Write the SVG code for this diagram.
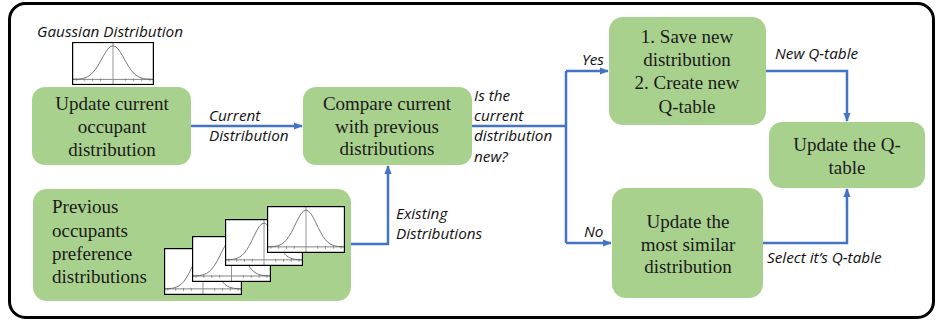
<svg xmlns="http://www.w3.org/2000/svg" xmlns:xlink="http://www.w3.org/1999/xlink" width="936" height="324" viewBox="0 0 936 324">
<style>
.box{fill:#a9d18e;stroke:none}
.t{font-family:"Liberation Serif","Times New Roman",serif;font-size:19px;fill:#1a1a1a}
.lbl{font-family:"Open Sans","Liberation Sans",Arial,sans-serif;font-style:italic;font-size:15.3px;fill:#111}
.conn{fill:none;stroke:#4472c4;stroke-width:2.5}
</style>
<defs>
<marker id="ah" viewBox="0 0 10 10" refX="9" refY="5" markerUnits="userSpaceOnUse" markerWidth="9" markerHeight="9" orient="auto">
<path d="M0,1 L10,5 L0,9 z" fill="#4472c4"/>
</marker>
<symbol id="gauss" viewBox="0 0 80 46" preserveAspectRatio="none">
<rect x="0" y="0" width="80" height="46" fill="#fff"/>
<line x1="0" y1="40" x2="80" y2="40" stroke="#666" stroke-width="0.8"/>
<path d="M4,39v3M12,39v3M20,39v3M28,39v3M52,39v3M60,39v3M68,39v3M76,39v3" stroke="#666" stroke-width="0.6"/>
<line x1="40" y1="1" x2="40" y2="46" stroke="#888" stroke-width="0.9"/>
<polyline fill="none" stroke="#555" stroke-width="0.8" points="0,39.95 2.5,39.89 5,39.77 7.5,39.54 10,39.13 12.5,38.41 15,37.28 17.5,35.55 20,33.11 22.5,29.85 25,25.79 27.5,21.13 30,16.18 32.5,11.45 35,7.53 37.5,4.92 40,4 42.5,4.92 45,7.53 47.5,11.45 50,16.18 52.5,21.13 55,25.79 57.5,29.85 60,33.11 62.5,35.55 65,37.28 67.5,38.41 70,39.13 72.5,39.54 75,39.77 77.5,39.89 80,39.95"/>
<rect x="0" y="0" width="80" height="46" fill="none" stroke="#000" stroke-width="2.4"/>
</symbol>
</defs>
<rect x="9.5" y="3.5" width="924" height="314" rx="16" fill="#fff" stroke="#000" stroke-width="3"/>

<g id="gaussian-label">
<text class="lbl" x="110" y="37" text-anchor="middle">Gaussian Distribution</text>
<use xlink:href="#gauss" x="72" y="42" width="82" height="43"/>
</g>

<g id="connectors">
<path class="conn" d="M191,126 H302" marker-end="url(#ah)"/>
<path class="conn" d="M345,244 H388 V166" marker-end="url(#ah)"/>
<path class="conn" d="M472,126 H566"/>
<path class="conn" d="M566,71 V243"/>
<path class="conn" d="M566,71 H608" marker-end="url(#ah)"/>
<path class="conn" d="M566,243 H611" marker-end="url(#ah)"/>
<path class="conn" d="M766,71 H847 V121" marker-end="url(#ah)"/>
<path class="conn" d="M763,243 H847 V189" marker-end="url(#ah)"/>
<text class="lbl" x="209" y="121">Current</text>
<text class="lbl" x="209" y="141">Distribution</text>
<text class="lbl" x="396" y="219">Existing</text>
<text class="lbl" x="396" y="239">Distributions</text>
<text class="lbl" x="474" y="101">Is the</text>
<text class="lbl" x="474" y="121">current</text>
<text class="lbl" x="474" y="141">distribution</text>
<text class="lbl" x="474" y="162">new?</text>
<text class="lbl" x="582" y="65">Yes</text>
<text class="lbl" x="584" y="237">No</text>
<text class="lbl" x="775" y="59">New Q-table</text>
<text class="lbl" x="767" y="263">Select it’s Q-table</text>
</g>

<g id="update-current">
<rect class="box" x="32" y="87" width="159" height="78" rx="13"/>
<text class="t" text-anchor="middle" x="112"><tspan x="112" y="110">Update current</tspan><tspan x="112" y="133">occupant</tspan><tspan x="112" y="156">distribution</tspan></text>
</g>

<g id="compare">
<rect class="box" x="303" y="87" width="169" height="78" rx="13"/>
<text class="t" text-anchor="middle"><tspan x="387" y="110">Compare current</tspan><tspan x="387" y="133">with previous</tspan><tspan x="387" y="155">distributions</tspan></text>
</g>

<g id="previous">
<rect class="box" x="33" y="189" width="318" height="112" rx="14"/>
<text class="t"><tspan x="52" y="213">Previous</tspan><tspan x="52" y="237">occupants</tspan><tspan x="52" y="260">preference</tspan><tspan x="52" y="283">distributions</tspan></text>
<use xlink:href="#gauss" x="164" y="248" width="78" height="47"/>
<use xlink:href="#gauss" x="192" y="236" width="79" height="46"/>
<use xlink:href="#gauss" x="225" y="219" width="78" height="47"/>
<use xlink:href="#gauss" x="267" y="206" width="78" height="47"/>
</g>

<g id="save-new">
<rect class="box" x="609" y="17" width="157" height="108" rx="14"/>
<text class="t" text-anchor="middle"><tspan x="687" y="43">1. Save new</tspan><tspan x="687" y="66">distribution</tspan><tspan x="687" y="89">2. Create new</tspan><tspan x="687" y="113">Q-table</tspan></text>
</g>

<g id="update-q">
<rect class="box" x="769" y="122" width="156" height="66" rx="13"/>
<text class="t" text-anchor="middle"><tspan x="847" y="151">Update the Q-</tspan><tspan x="847" y="174">table</tspan></text>
</g>

<g id="update-similar">
<rect class="box" x="612" y="188" width="151" height="110" rx="14"/>
<text class="t" text-anchor="middle"><tspan x="688" y="228">Update the</tspan><tspan x="688" y="251">most similar</tspan><tspan x="688" y="273">distribution</tspan></text>
</g>
</svg>
